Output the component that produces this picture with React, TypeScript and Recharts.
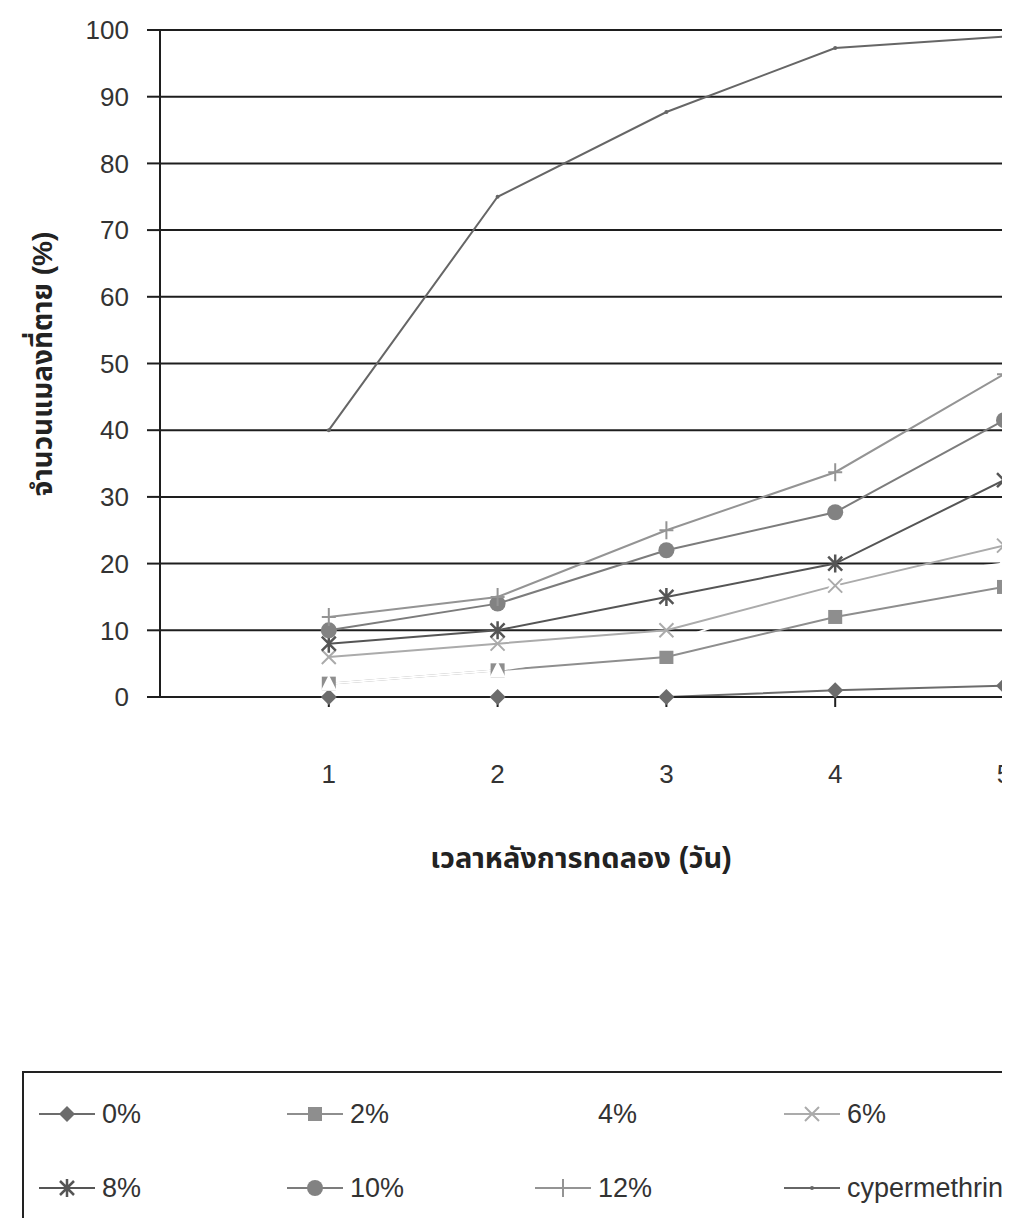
import { LineChart, Line, XAxis, YAxis, CartesianGrid, ReferenceLine, Legend, Label } from "recharts";

const days = [1, 2, 3, 4, 5];
const yTicks = [0, 10, 20, 30, 40, 50, 60, 70, 80, 90, 100];

const pct0 = [0, 0, 0, 1, 1.7];
const pct2 = [2, 4, 6, 12, 16.5];
const pct4 = [2, 4, 8, 17, 20];
const pct6 = [6, 8, 10, 16.7, 22.7];
const pct8 = [8, 10, 15, 20, 32.5];
const pct10 = [10, 14, 22, 27.7, 41.5];
const pct12 = [12, 15, 25, 33.7, 48.4];
const cyper = [40, 75, 87.7, 97.3, 99];

const seriesNames = ["0%", "2%", "4%", "6%", "8%", "10%", "12%", "cypermethrin"];

const data = days.map((d, i) => ({
  day: d,
  p0: pct0[i],
  p2: pct2[i],
  p4: pct4[i],
  p6: pct6[i],
  p8: pct8[i],
  p10: pct10[i],
  p12: pct12[i],
  cyp: cyper[i],
}));

const FONT = "'Liberation Sans', Arial, 'Noto Sans Thai', 'Noto Sans', sans-serif";

// marker shapes
const Shape = ({ kind, cx, cy, color }: any) => {
  if (kind === "diamond")
    return <path d={`M${cx},${cy - 8}L${cx + 8},${cy}L${cx},${cy + 8}L${cx - 8},${cy}Z`} fill={color} />;
  if (kind === "square") return <rect x={cx - 7} y={cy - 7} width={14} height={14} fill={color} />;
  if (kind === "triangle")
    return <path d={`M${cx},${cy - 9}L${cx + 8},${cy + 7}L${cx - 8},${cy + 7}Z`} fill={color} />;
  if (kind === "x")
    return (
      <path d={`M${cx - 7},${cy - 7}L${cx + 7},${cy + 7}M${cx - 7},${cy + 7}L${cx + 7},${cy - 7}`} stroke={color} strokeWidth={2} />
    );
  if (kind === "star")
    return (
      <path
        d={`M${cx - 7},${cy - 7}L${cx + 7},${cy + 7}M${cx - 7},${cy + 7}L${cx + 7},${cy - 7}M${cx},${cy - 9}L${cx},${cy + 9}`}
        stroke={color}
        strokeWidth={2.5}
      />
    );
  if (kind === "circle") return <circle cx={cx} cy={cy} r={8} fill={color} />;
  if (kind === "plus")
    return <path d={`M${cx},${cy - 9}L${cx},${cy + 9}M${cx - 7},${cy}L${cx + 7},${cy}`} stroke={color} strokeWidth={2} />;
  return <circle cx={cx} cy={cy} r={2} fill={color} />;
};

const styles = [
  { key: "p0", kind: "diamond", color: "#6c6c6c", line: "#6c6c6c" },
  { key: "p2", kind: "square", color: "#8e8e8e", line: "#8e8e8e" },
  { key: "p4", kind: "triangle", color: "#ffffff", line: "#ffffff" },
  { key: "p6", kind: "x", color: "#ababab", line: "#ababab" },
  { key: "p8", kind: "star", color: "#555555", line: "#555555" },
  { key: "p10", kind: "circle", color: "#828282", line: "#7c7c7c" },
  { key: "p12", kind: "plus", color: "#949494", line: "#949494" },
  { key: "cyp", kind: "dot", color: "#666666", line: "#666666" },
];

const legendCols = [15, 263, 511, 760];

const renderLegend = () => (
  <div
    style={{
      position: "relative",
      width: 1100,
      height: 160,
      border: "2px solid #222",
      boxSizing: "border-box",
      background: "#fff",
      fontFamily: FONT,
      fontSize: 27,
      color: "#333",
    }}
  >
    {styles.map((s, i) => {
      const left = legendCols[i % 4];
      const top = i < 4 ? 41 : 115;
      return (
        <div key={s.key} style={{ position: "absolute", left, top: top - 18, height: 36, display: "flex", alignItems: "center" }}>
          <svg width={56} height={20}>
            <line x1={0} y1={10} x2={56} y2={10} stroke={s.line} strokeWidth={2} />
            <Shape kind={s.kind} cx={28} cy={10} color={s.color} />
          </svg>
          <span style={{ marginLeft: 7 }}>{seriesNames[i]}</span>
        </div>
      );
    })}
  </div>
);

export default function App() {
  return (
    <div style={{ width: 1002, height: 1210, overflow: "hidden", background: "#fff" }}>
      <LineChart width={1060} height={1210} data={data} margin={{ top: 22, right: 64, bottom: 371, left: 0 }}>
        <CartesianGrid vertical={false} stroke="#1e1e1e" strokeWidth={2} />
        <XAxis
          dataKey="day"
          type="number"
          domain={[0, 5]}
          ticks={days}
          height={150}
          axisLine={{ stroke: "#1e1e1e", strokeWidth: 2 }}
          tickLine={{ stroke: "#1e1e1e", strokeWidth: 2 }}
          tickSize={10}
          tickMargin={58}
          tick={{ fill: "#333", fontSize: 26, fontFamily: FONT }}
        >
          <Label
            content={() => (
              <text x={573} y={860} textAnchor="middle" fontFamily={FONT} fontSize={29} fontWeight="bold" fill="#222">
                เวลาหลังการทดลอง (วัน)
              </text>
            )}
          />
        </XAxis>
        <YAxis
          domain={[0, 100]}
          ticks={yTicks}
          width={152}
          axisLine={{ stroke: "#1e1e1e", strokeWidth: 2 }}
          tickLine={{ stroke: "#1e1e1e", strokeWidth: 2 }}
          tickSize={13}
          tickMargin={18}
          tick={{ fill: "#333", fontSize: 26, fontFamily: FONT }}
        >
          <Label
            content={() => (
              <text
                x={34}
                y={356}
                transform="rotate(-90, 34, 356)"
                textAnchor="middle"
                dominantBaseline="central"
                fontFamily={FONT}
                fontSize={28}
                fontWeight="bold"
                fill="#222"
              >
                จำนวนแมลงที่ตาย (%)
              </text>
            )}
          />
        </YAxis>
        <ReferenceLine x={5} stroke="#1e1e1e" strokeWidth={2} />
        {styles.map((s, i) => (
          <Line
            key={s.key}
            dataKey={s.key}
            name={seriesNames[i]}
            type="linear"
            stroke={s.line}
            strokeWidth={2}
            isAnimationActive={false}
            dot={(p: any) => <Shape key={`${s.key}-${p.index}`} kind={s.kind} cx={p.cx} cy={p.cy} color={s.color} />}
            activeDot={false}
          />
        ))}
        <Legend
          layout="horizontal"
          verticalAlign="middle"
          align="center"
          content={renderLegend}
          wrapperStyle={{ position: "absolute", left: 14, top: 1063, width: 1100, height: 160 }}
        />
      </LineChart>
    </div>
  );
}
